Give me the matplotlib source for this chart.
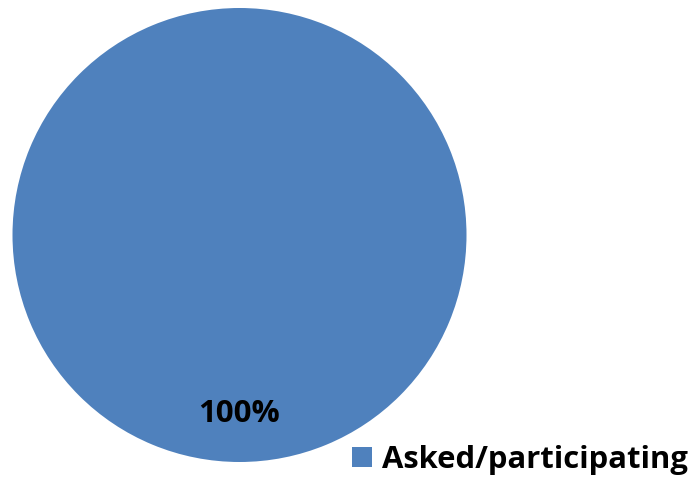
import matplotlib.pyplot as plt

labels = ['Asked/participating']
values = [100]
colors = ['#4F81BD']

fig = plt.figure(figsize=(6.94, 4.78), dpi=100)
ax = fig.add_axes([12.5 / 694, 16 / 478, 454 / 694, 454 / 478])

wedges, texts, autotexts = ax.pie(values, colors=colors, startangle=90,
                                  autopct='%d%%', pctdistance=0.79,
                                  wedgeprops=dict(linewidth=0))
for t in autotexts:
    t.set_fontsize(22.5)
    t.set_fontweight('bold')
    t.set_fontfamily('Open Sans')
    t.set_color('black')
ax.set_xlim(-1, 1)
ax.set_ylim(-1, 1)
ax.set_aspect('equal')

fig.legend(wedges, labels, loc='center left', bbox_to_anchor=(352 / 694, 1 - 460 / 478),
           frameon=False, prop=dict(family='Open Sans', weight='bold', size=22.3),
           handlelength=0.65, handleheight=0.65, handletextpad=0.33,
           borderpad=0, borderaxespad=0)

fig.savefig('out.png', dpi=100)
